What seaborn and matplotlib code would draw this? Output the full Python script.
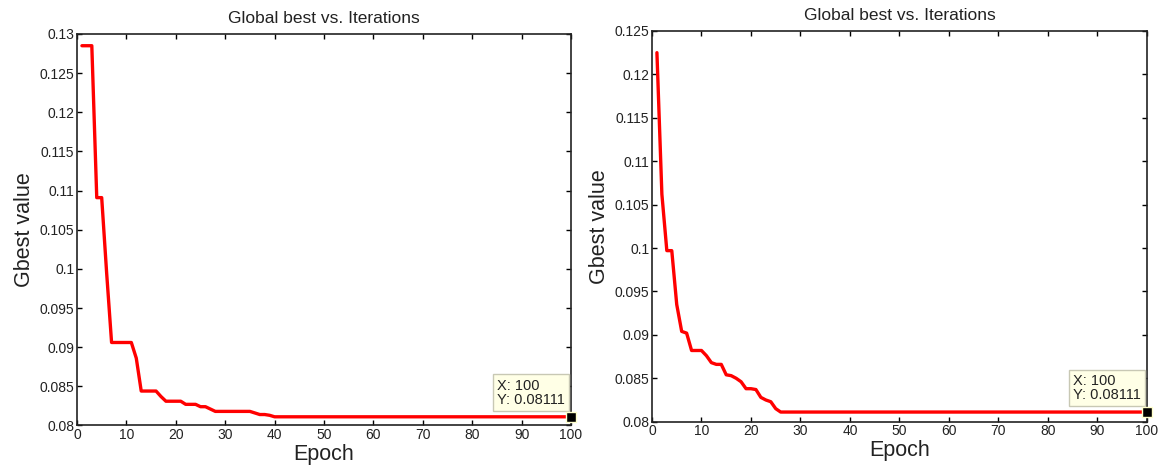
import numpy as np
import pandas as pd
import matplotlib
matplotlib.use("Agg")
import matplotlib.pyplot as plt
import seaborn as sns

# Gbest value per epoch (1..100)
left_head = [0.1285, 0.1285, 0.1285, 0.1091, 0.1091, 0.0995, 0.0906, 0.0906,
             0.0906, 0.0906, 0.0906, 0.0886, 0.0844, 0.0844, 0.0844, 0.0844,
             0.0837, 0.0831, 0.0831, 0.0831, 0.0831, 0.0827, 0.0827, 0.0827,
             0.0824, 0.0824, 0.0821, 0.0818, 0.0818, 0.0818, 0.0818, 0.0818,
             0.0818, 0.0818, 0.0818, 0.0816, 0.0814, 0.0814, 0.0813]
right_head = [0.1225, 0.1062, 0.0997, 0.0997, 0.0935, 0.0904, 0.0902, 0.0882,
              0.0882, 0.0882, 0.0876, 0.0868, 0.0866, 0.0866, 0.0854, 0.0853,
              0.0850, 0.0846, 0.0838, 0.0838, 0.0837, 0.0828, 0.0825, 0.0823,
              0.0815]
final_value = 0.08111
n_epochs = 100

left_gbest = left_head + [final_value] * (n_epochs - len(left_head))
right_gbest = right_head + [final_value] * (n_epochs - len(right_head))
epochs = np.arange(1, n_epochs + 1)

left_yticks = [0.08, 0.085, 0.09, 0.095, 0.1, 0.105, 0.11, 0.115, 0.12, 0.125, 0.13]
right_yticks = [0.08, 0.085, 0.09, 0.095, 0.1, 0.105, 0.11, 0.115, 0.12, 0.125]
xticks = list(range(0, 101, 10))

sns.set_theme(style="ticks")
plt.rcParams["font.family"] = ["Liberation Sans", "DejaVu Sans"]
plt.rcParams["xtick.direction"] = "in"
plt.rcParams["ytick.direction"] = "in"

fig = plt.figure(figsize=(11.63, 4.70), dpi=100)
ax_left = fig.add_axes([0.0662, 0.0947, 0.4248, 0.8330])
ax_right = fig.add_axes([0.5606, 0.1028, 0.4256, 0.8313])


def draw_panel(ax, values, yticks, ylim):
    df = pd.DataFrame({"Epoch": epochs, "Gbest value": values})
    sns.lineplot(data=df, x="Epoch", y="Gbest value", ax=ax,
                 color="#ff0000", linewidth=2.4)
    ax.set_xlim(0, 100)
    ax.set_ylim(*ylim)
    ax.set_xticks(xticks)
    ax.set_yticks(yticks)
    ax.set_yticklabels([f"{t:g}" for t in yticks])
    ax.tick_params(axis="both", labelsize=10, length=3.5, width=1,
                   colors="black", labelcolor="#222222",
                   top=True, right=True, pad=2)
    for s in ax.spines.values():
        s.set_color("#222222")
        s.set_linewidth(1.2)
    ax.set_title("Global best vs. Iterations", fontsize=12.5, pad=8,
                 color="#222222")
    ax.set_xlabel("Epoch", fontsize=15.5, labelpad=1, color="#222222")
    ax.set_ylabel("Gbest value", fontsize=15.5, labelpad=3, color="#222222")

    # data tip at the last epoch
    ax.plot([epochs[-1]], [values[-1]], marker="s", markersize=7,
            color="black", markeredgecolor="#ffffcc", clip_on=False, zorder=5)
    ax.annotate(f"X: {epochs[-1]}\nY: {values[-1]:.4g}",
                xy=(epochs[-1], values[-1]), xytext=(-6, 10),
                textcoords="offset pixels", ha="right", va="bottom",
                multialignment="left", fontsize=10.5, linespacing=1.0,
                color="#222222",
                bbox=dict(boxstyle="square,pad=0.3", fc="#ffffe6",
                          ec="#c8c8b4", lw=1))


draw_panel(ax_left, left_gbest, left_yticks, (0.08, 0.13))
draw_panel(ax_right, right_gbest, right_yticks, (0.08, 0.125))

fig.savefig("out.png", dpi=100)
